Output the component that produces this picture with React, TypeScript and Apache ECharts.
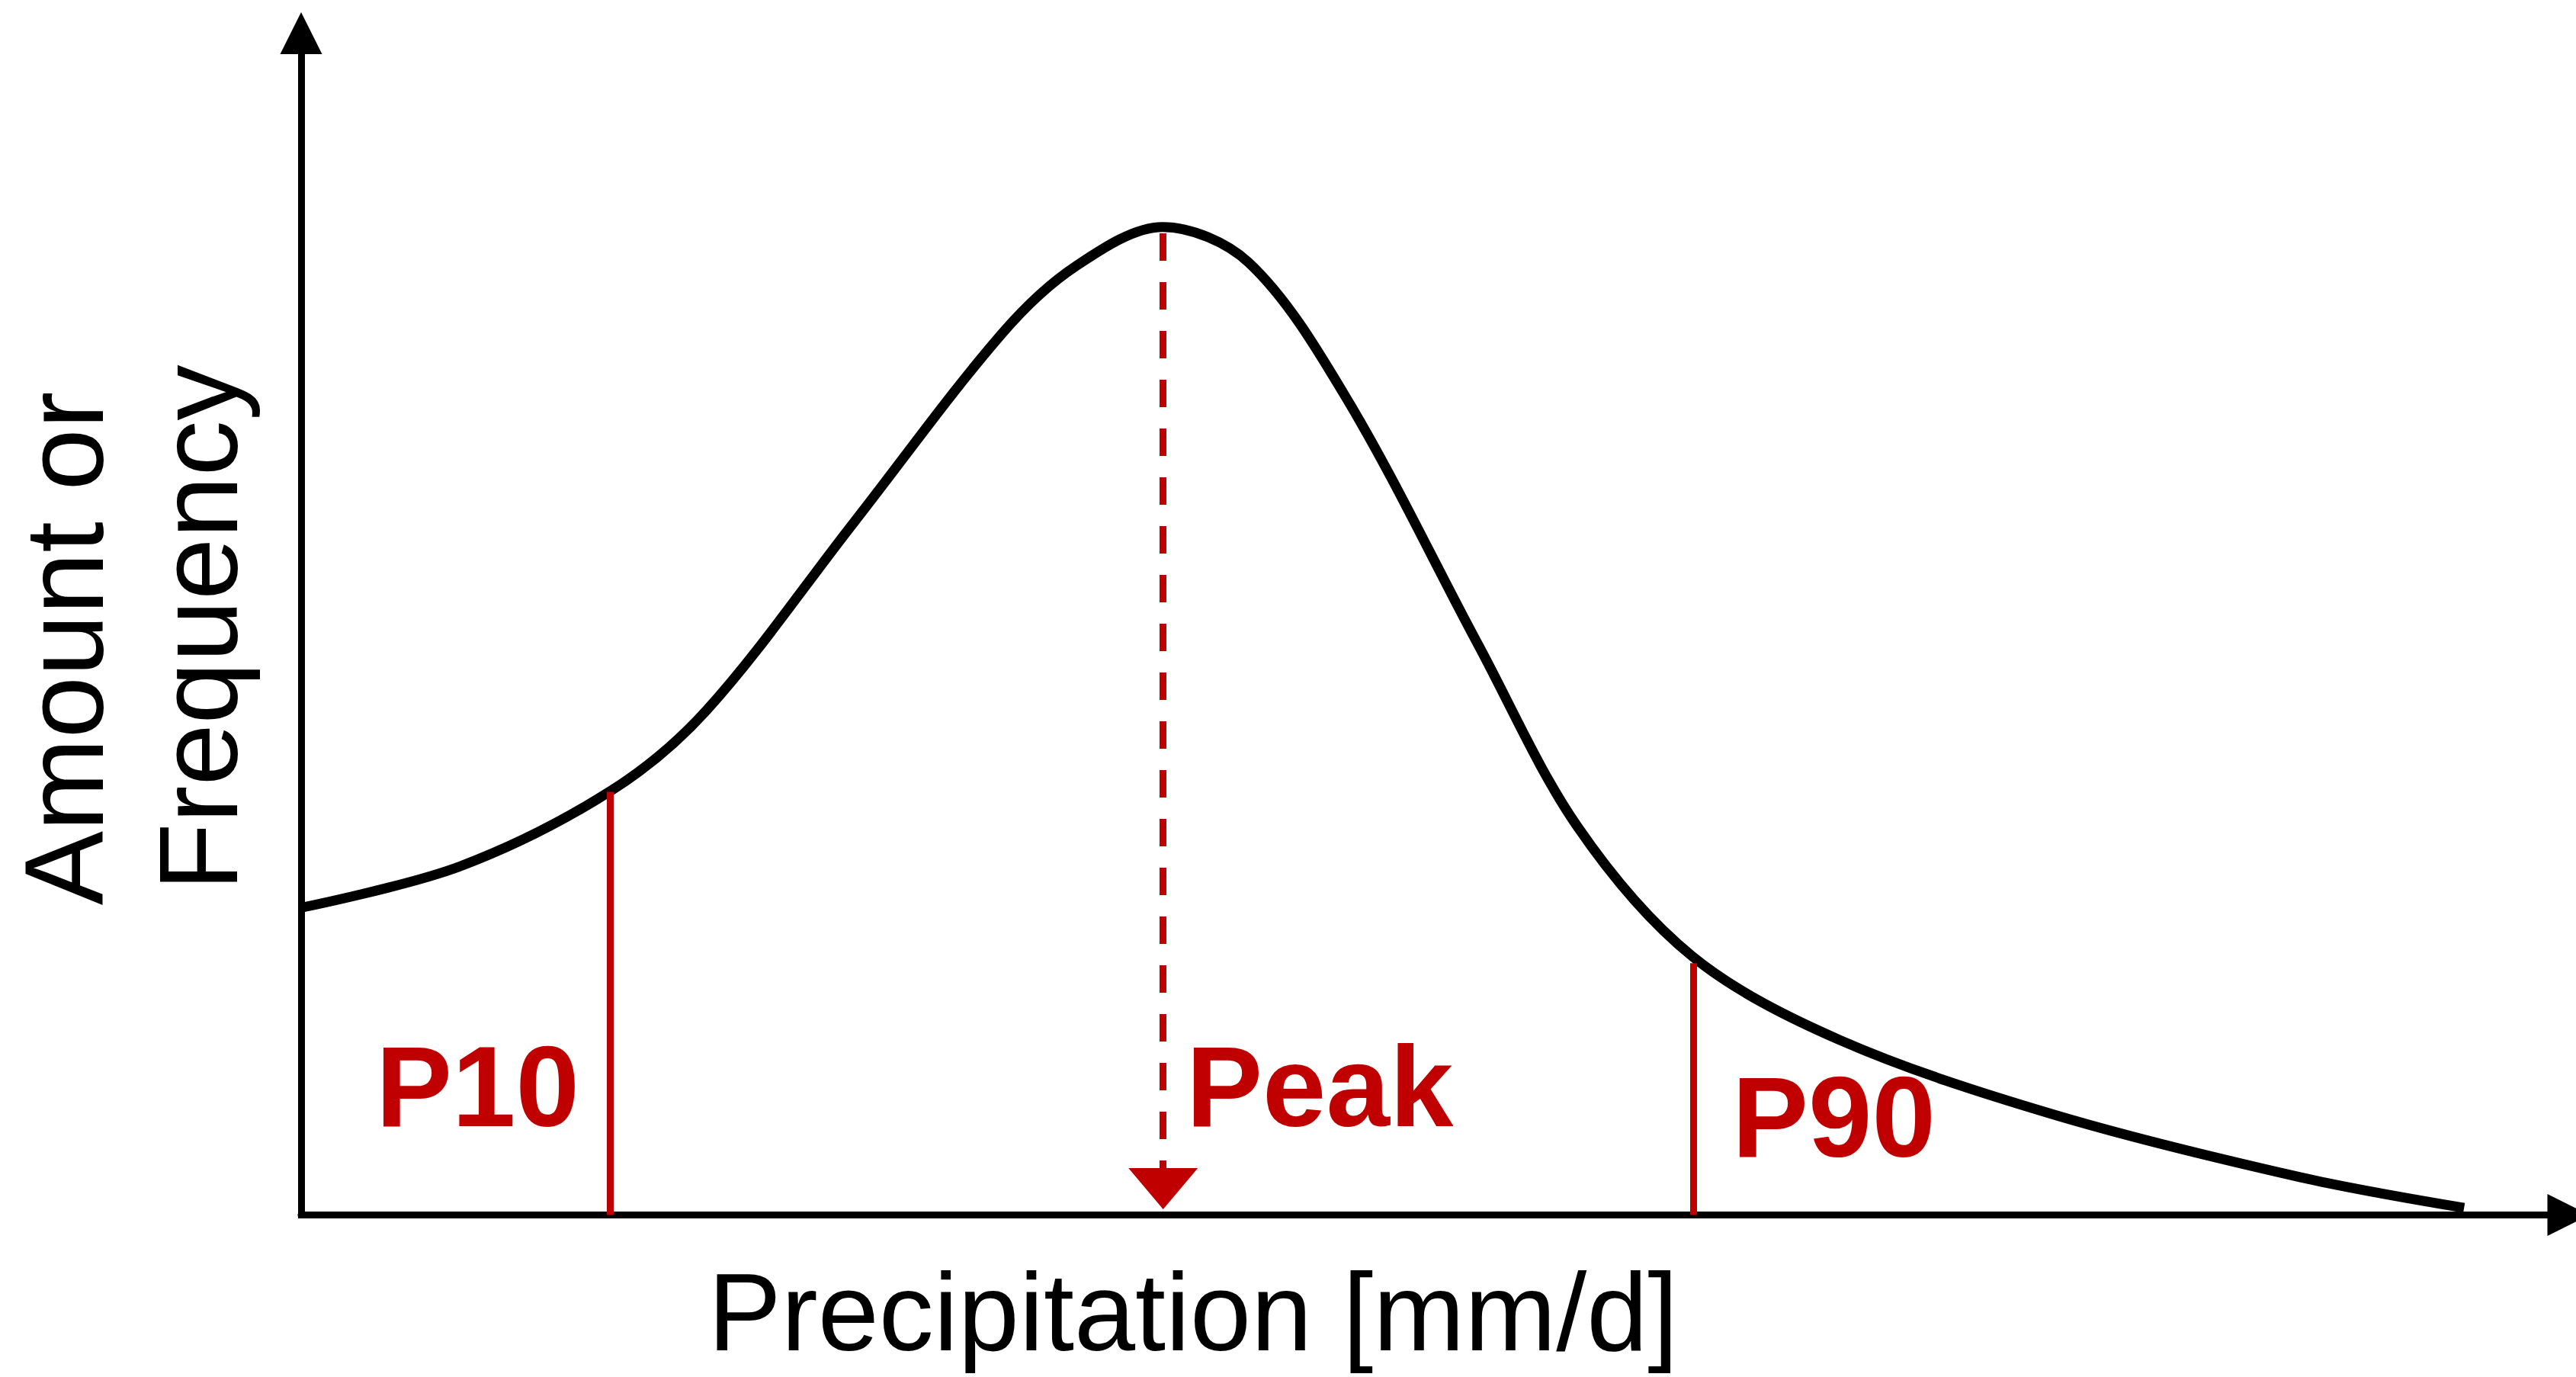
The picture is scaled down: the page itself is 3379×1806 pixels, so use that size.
import React, { useEffect, useRef } from "react";
import * as echarts from "echarts";

// Distribution curve (arbitrary units: x 0..100, y 0..100)
const curveX = [0, 7.01, 13.67, 17.88, 24.38, 30.92, 34.18, 38.0, 41.79, 46.14, 51.93, 56.28, 61.35, 67.87, 77.29, 88.16, 95.4];
const curveY = [26.0, 29.5, 35.9, 42.7, 58.6, 74.6, 80.3, 83.6, 80.6, 69.0, 48.2, 32.9, 21.9, 14.8, 8.5, 3.2, 0.6];

// Marker positions
const markerNames = ["P10", "Peak", "P90"];
const markerX = [13.62, 38.02, 61.41];
const markerTop = [35.8, 83.06, 21.3];
const peakArrowY = 2.23;

const xTitle = "Precipitation [mm/d]";
const yTitleLines = ["Amount or", "Frequency"];

const RED = "#C00000";
const FONT = '"Liberation Sans", Arial, sans-serif';

export default function App() {
  const ref = useRef<HTMLDivElement>(null);
  useEffect(() => {
    if (!ref.current) return;
    const chart = echarts.init(ref.current, null, { renderer: "svg" });
    const solid = { color: RED, width: 9, type: "solid" as const };
    chart.setOption({
      animation: false,
      backgroundColor: "#ffffff",
      grid: { left: 395, right: 10, top: 43.5, bottom: 212.5, containLabel: false, outerBoundsMode: "none" },
      xAxis: {
        type: "value",
        min: 0,
        max: 100,
        axisLine: {
          show: true,
          onZero: false,
          lineStyle: { color: "#000", width: 9 },
          symbol: ["none", "triangle"],
          symbolSize: [55, 55],
        },
        axisTick: { show: false },
        axisLabel: { show: false },
        splitLine: { show: false },
      },
      yAxis: {
        type: "value",
        min: 0,
        max: 100,
        axisLine: {
          show: true,
          onZero: false,
          lineStyle: { color: "#000", width: 9, cap: "square" },
          symbol: ["none", "triangle"],
          symbolSize: [55, 55],
        },
        axisTick: { show: false },
        axisLabel: { show: false },
        splitLine: { show: false },
      },
      series: [
        {
          type: "line",
          data: curveX.map((x, i) => [x, curveY[i]]),
          smooth: 0.33,
          showSymbol: false,
          symbol: "none",
          lineStyle: { color: "#000", width: 13, cap: "butt" },
          silent: true,
          markLine: {
            silent: true,
            symbol: ["none", "none"],
            label: { show: false },
            emphasis: { disabled: true },
            data: [
              [
                { coord: [markerX[0], 0], lineStyle: solid },
                { coord: [markerX[0], markerTop[0]], lineStyle: solid },
              ],
              [
                { coord: [markerX[2], 0], lineStyle: solid },
                { coord: [markerX[2], markerTop[2]], lineStyle: solid },
              ],
              [
                {
                  coord: [markerX[1], markerTop[1]],
                  symbol: "none",
                  lineStyle: { color: RED, width: 9, type: [36, 28] },
                },
                {
                  coord: [markerX[1], peakArrowY],
                  symbol: "triangle",
                  symbolSize: [91, 54],
                  itemStyle: { color: RED },
                  lineStyle: { color: RED, width: 9, type: [36, 28] },
                },
              ],
            ],
          },
        },
      ],
      graphic: [
        {
          type: "text",
          x: 493,
          y: 1424.5,
          silent: true,
          style: { text: markerNames[0], font: `bold 150px ${FONT}`, fill: RED, align: "left", verticalAlign: "middle" },
        },
        {
          type: "text",
          x: 1556,
          y: 1424.5,
          silent: true,
          style: { text: markerNames[1], font: `bold 150px ${FONT}`, fill: RED, align: "left", verticalAlign: "middle" },
        },
        {
          type: "text",
          x: 2272,
          y: 1464.5,
          silent: true,
          style: { text: markerNames[2], font: `bold 150px ${FONT}`, fill: RED, align: "left", verticalAlign: "middle" },
        },
        {
          type: "text",
          x: 1565,
          y: 1721,
          silent: true,
          style: { text: xTitle, font: `144px ${FONT}`, fill: "#000", align: "center", verticalAlign: "middle" },
        },
        {
          type: "text",
          x: 84,
          y: 850.5,
          rotation: Math.PI / 2,
          silent: true,
          style: { text: yTitleLines[0], font: `146px ${FONT}`, fill: "#000", align: "center", verticalAlign: "middle" },
        },
        {
          type: "text",
          x: 260.5,
          y: 823.5,
          rotation: Math.PI / 2,
          silent: true,
          style: { text: yTitleLines[1], font: `146px ${FONT}`, fill: "#000", align: "center", verticalAlign: "middle" },
        },
      ],
    });
    return () => chart.dispose();
  }, []);
  return (
    <div
      ref={ref}
      style={{ position: "absolute", left: 0, top: 0, width: 3379, height: 1806, background: "#fff" }}
    />
  );
}
